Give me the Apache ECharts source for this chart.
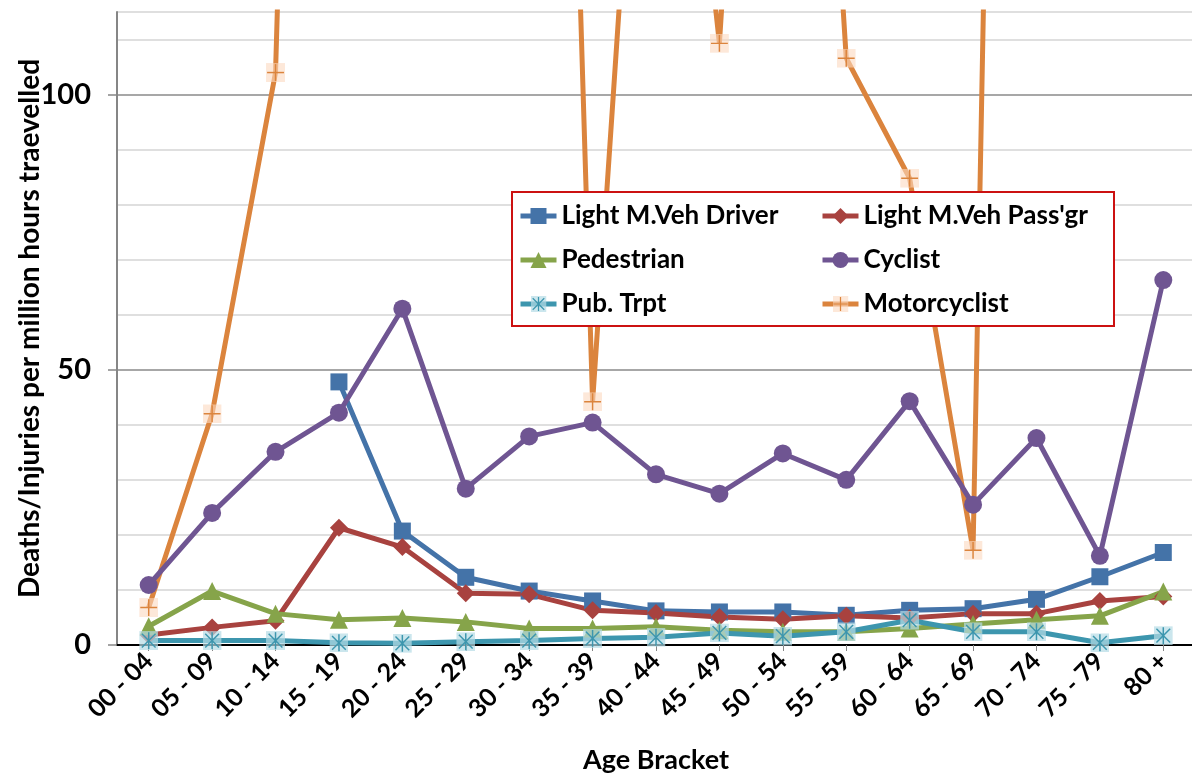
<!DOCTYPE html>
<html>
<head>
<meta charset="utf-8">
<script src="https://cdn.jsdelivr.net/npm/echarts@6/dist/echarts.min.js"></script>
<style>
html,body{margin:0;padding:0;background:#fff;}
#chart{width:1192px;height:776px;}
</style>
</head>
<body>
<div id="chart"></div>
<script>
// ---- data ----
var ageBrackets = ['00 - 04','05 - 09','10 - 14','15 - 19','20 - 24','25 - 29','30 - 34','35 - 39','40 - 44','45 - 49','50 - 54','55 - 59','60 - 64','65 - 69','70 - 74','75 - 79','80 +'];
var driverValues = [null, null, null, 47.8, 20.7, 12.3, 9.8, 8.0, 6.2, 6.0, 6.0, 5.4, 6.3, 6.6, 8.3, 12.4, 16.8];
var passengerValues = [1.8, 3.2, 4.4, 21.3, 17.8, 9.4, 9.2, 6.3, 5.8, 5.1, 4.7, 5.3, 4.9, 5.7, 5.7, 8.0, 8.8];
var pedestrianValues = [3.4, 9.8, 5.7, 4.6, 4.9, 4.2, 3.0, 3.0, 3.3, 2.7, 2.4, 2.4, 3.0, 3.8, 4.6, 5.3, 9.7];
var cyclistValues = [10.9, 24.0, 35.1, 42.2, 61.1, 28.4, 37.9, 40.4, 31.0, 27.5, 34.8, 30.0, 44.3, 25.5, 37.6, 16.2, 66.3];
var pubTrptValues = [0.8, 0.8, 0.8, 0.4, 0.3, 0.6, 0.8, 1.2, 1.4, 2.2, 1.6, 2.4, 4.5, 2.4, 2.4, 0.4, 1.7];
var motorcyclistValues = [6.8, 42.0, 104.0, 500, 460, 440, 420, 44.2, 215, 109.3, 290, 106.6, 84.8, 17.2, 620, 560, 520];
var yTickLabels = [0, 50, 100];

var FONT = 'Lato';
var C = {
  driver: '#4473A8',
  pass: '#A8423F',
  ped: '#86A44A',
  cyc: '#6F5592',
  pub: '#3D96AE',
  moto: '#DB843D'
};

function svgUrl(svg){ return 'image://data:image/svg+xml;utf8,' + encodeURIComponent(svg); }
var starSym = svgUrl('<svg xmlns="http://www.w3.org/2000/svg" width="18" height="18" viewBox="0 0 18 18">' +
  '<rect x="0" y="0" width="18" height="18" fill="#b5dbe6" fill-opacity="0.7"/>' +
  '<g stroke="#3D96AE" stroke-width="1.4" fill="none">' +
  '<line x1="9" y1="1" x2="9" y2="17"/><line x1="2.5" y1="2.5" x2="15.5" y2="15.5"/><line x1="15.5" y1="2.5" x2="2.5" y2="15.5"/></g></svg>');
var plusSym = svgUrl('<svg xmlns="http://www.w3.org/2000/svg" width="18" height="18" viewBox="0 0 18 18">' +
  '<rect x="0" y="0" width="18" height="18" fill="#fbd9bf" fill-opacity="0.6"/>' +
  '<g stroke="#DB843D" stroke-width="1.4" fill="none">' +
  '<line x1="9" y1="1" x2="9" y2="17"/><line x1="1" y1="9" x2="17" y2="9"/></g></svg>');

function mkSeries(name, data, color, symbol, size, z){
  return {
    name: name, type: 'line', data: data, xAxisIndex: 0, yAxisIndex: 0,
    symbol: symbol, symbolSize: size, showAllSymbol: true,
    connectNulls: false, clip: true, z: z || 2,
    lineStyle: {color: color, width: 5},
    itemStyle: {color: color, borderWidth: 0},
    emphasis: {disabled: true},
    animation: false
  };
}

var legendText = {fontFamily: FONT, fontWeight: 'bold', fontSize: 26, color: '#000', lineHeight: 30};

var chart = echarts.init(document.getElementById('chart'), null, {renderer: 'canvas'});
var option = {
  animation: false,
  backgroundColor: '#ffffff',
  textStyle: {fontFamily: FONT},
  grid: {left: 117, right: -3, top: 12, bottom: 131, containLabel: false, outerBoundsMode: 'none'},
  xAxis: [{
    type: 'category', data: ageBrackets, boundaryGap: true, position: 'bottom',
    name: 'Age Bracket', nameLocation: 'middle', nameGap: 102,
    nameTextStyle: {fontFamily: FONT, fontWeight: 'bold', fontSize: 27, color: '#000'},
    axisLine: {show: true, lineStyle: {color: '#868686', width: 2}},
    axisTick: {show: true, alignWithLabel: true, length: 6, lineStyle: {color: '#868686', width: 1}},
    axisLabel: {rotate: 45, margin: 12, interval: 0, fontFamily: FONT, fontWeight: 'bold', fontSize: 25, color: '#000'},
    splitLine: {show: false}
  }, {
    type: 'category', data: ageBrackets, position: 'top',
    axisLine: {show: true, lineStyle: {color: '#000', width: 2}},
    axisTick: {show: false}, axisLabel: {show: false}, splitLine: {show: false}
  }],
  yAxis: [{
    type: 'value', min: 0, max: 115, interval: 10, position: 'left',
    axisLine: {show: false}, axisTick: {show: false}, axisLabel: {show: false},
    splitLine: {show: true, lineStyle: {color: ['#8a8a8a','#d4d4d4','#d4d4d4','#d4d4d4','#d4d4d4'], width: 1.5}}
  }, {
    type: 'value', min: 0, max: 115, interval: 50, position: 'left',
    name: 'Deaths/Injuries per million hours traevelled', nameLocation: 'middle', nameGap: 73, nameRotate: 90,
    nameMoveOverlap: false,
    nameTextStyle: {fontFamily: FONT, fontWeight: 'bold', fontSize: 28, color: '#000'},
    axisLine: {show: true, lineStyle: {color: '#868686', width: 2}},
    axisTick: {show: true, length: 9, lineStyle: {color: '#868686', width: 1.5}},
    axisLabel: {show: true, margin: 26, fontFamily: FONT, fontWeight: 'bold', fontSize: 29, color: '#000',
      showMaxLabel: false,
      formatter: function(v){ return yTickLabels.indexOf(v) >= 0 ? String(v) : ''; }},
    splitLine: {show: false}
  }],
  legend: [{
    orient: 'vertical', left: 518, top: 201, padding: 0, itemGap: 14, itemWidth: 36, itemHeight: 20,
    data: ['Light M.Veh Driver', 'Pedestrian', 'Pub. Trpt'],
    lineStyle: {width: 5},
    textStyle: legendText,
    selectedMode: false, z: 10
  }, {
    orient: 'vertical', left: 820, top: 201, padding: 0, itemGap: 14, itemWidth: 36, itemHeight: 20,
    data: ["Light M.Veh Pass'gr", 'Cyclist', 'Motorcyclist'],
    lineStyle: {width: 5},
    textStyle: legendText,
    selectedMode: false, z: 10
  }],
  graphic: [{
    type: 'rect', left: 511, top: 191, z: 9,
    shape: {width: 602, height: 134},
    style: {fill: '#fff', stroke: '#cc1111', lineWidth: 2}
  }],
  series: [
    mkSeries('Light M.Veh Driver', driverValues, C.driver, 'rect', 17, 3),
    mkSeries("Light M.Veh Pass'gr", passengerValues, C.pass, 'diamond', 18, 3),
    mkSeries('Pedestrian', pedestrianValues, C.ped, 'triangle', 18, 3),
    mkSeries('Cyclist', cyclistValues, C.cyc, 'circle', 18, 3),
    mkSeries('Pub. Trpt', pubTrptValues, C.pub, starSym, 19, 3),
    mkSeries('Motorcyclist', motorcyclistValues, C.moto, plusSym, 19, 2)
  ]
};
chart.setOption(option);
</script>
</body>
</html>
